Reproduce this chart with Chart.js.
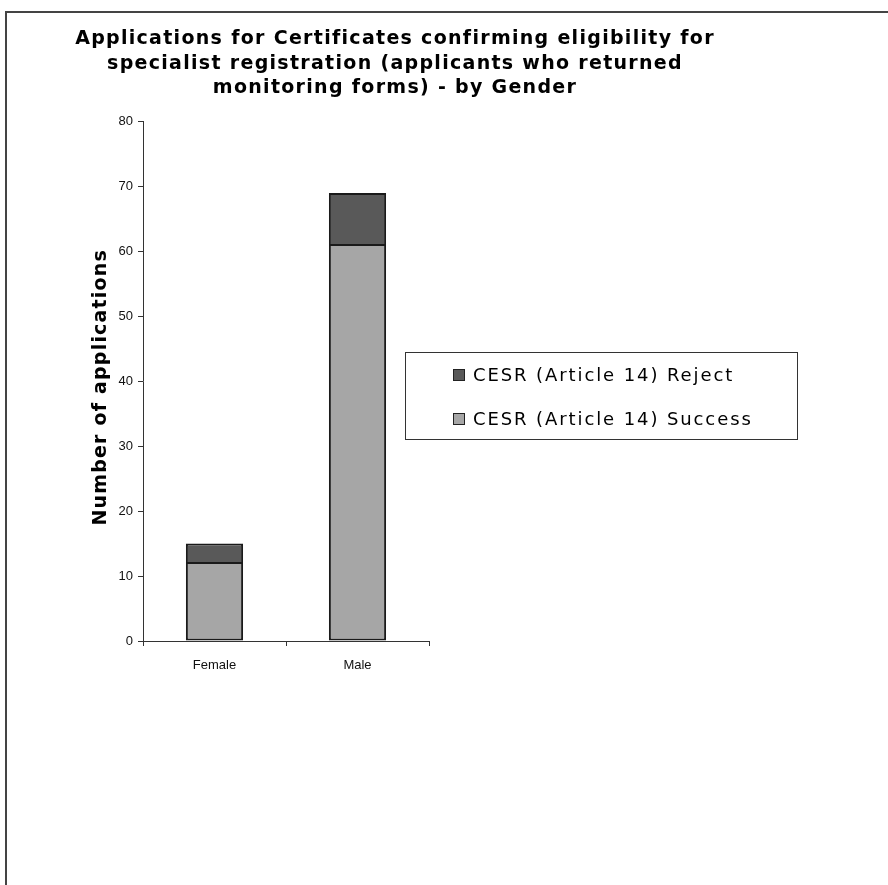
<!DOCTYPE html>
<html>
<head>
<meta charset="utf-8">
<script src="https://cdn.jsdelivr.net/npm/chart.js@4/dist/chart.umd.min.js"></script>
<style>
  html, body { margin: 0; padding: 0; background: #fff; }
  #grafica { display: block; }
</style>
</head>
<body>
<canvas id="grafica" width="888" height="885"></canvas>
<script>
const generos = ["Female", "Male"];
const exitosas = [12, 61];
const rechazadas = [3, 8];
const ticksY = [0, 10, 20, 30, 40, 50, 60, 70, 80];

const titulo = [
  "Applications for Certificates confirming eligibility for",
  "specialist registration (applicants who returned",
  "monitoring forms) - by Gender",
];

// marco de la hoja (solo izquierda y arriba)
const marco = {
  id: "marco",
  beforeDraw(chart) {
    const ctx = chart.ctx;
    ctx.save();
    ctx.fillStyle = "#fff";
    ctx.fillRect(0, 0, chart.width, chart.height);
    ctx.fillStyle = "#444";
    ctx.fillRect(5, 11, 2, chart.height - 11);
    ctx.fillRect(5, 11, chart.width - 5, 2);
    ctx.restore();
  },
};

// dibuja con espaciado entre letras (Chart.js no tiene opcion para eso)
const conEspaciado = (obj, metodo, px, dy = 0) => {
  if (obj["_" + metodo]) return;
  const original = obj[metodo].bind(obj);
  obj["_" + metodo] = original;
  obj[metodo] = (...args) => {
    const ctx = obj.ctx;
    ctx.save();
    ctx.translate(0, dy);
    ctx.letterSpacing = px + "px";
    original(...args);
    ctx.restore();
  };
};

// el titulo se centra sobre la hoja, no solo sobre el area del grafico
const ajustes = {
  id: "ajustes",
  afterLayout(chart) {
    const t = chart.titleBlock;
    t.left = 0;
    t.right = 790;
    t.width = 790;
    conEspaciado(t, "draw", 1.3);
    conEspaciado(chart.scales.y, "drawTitle", 1.2, 6);
  },
};

// leyenda en caja, a la derecha
const leyenda = {
  id: "leyenda",
  afterDraw(chart) {
    const ctx = chart.ctx;
    const caja = { x: 405.5, y: 352.5, w: 392, h: 87 };
    ctx.save();
    ctx.strokeStyle = "#333";
    ctx.lineWidth = 1;
    ctx.strokeRect(caja.x, caja.y, caja.w, caja.h);
    ctx.font = "18px 'DejaVu Sans'";
    ctx.letterSpacing = "1.9px";
    ctx.textBaseline = "middle";
    const sets = chart.data.datasets.slice().reverse();
    sets.forEach((ds, i) => {
      const y = 375 + i * 44;
      ctx.fillStyle = ds.backgroundColor;
      ctx.fillRect(453, y - 6, 12, 12);
      ctx.strokeStyle = "#222";
      ctx.strokeRect(453.5, y - 5.5, 11, 11);
      ctx.fillStyle = "#000";
      ctx.fillText(ds.label, 473, y + 1);
    });
    ctx.restore();
  },
};

const config = {
  type: "bar",
  data: {
    labels: generos,
    datasets: [
      {
        label: "CESR (Article 14) Success",
        data: exitosas,
        backgroundColor: "#a6a6a6",
        borderColor: "#1a1a1a",
        borderWidth: { top: 1, bottom: 2, left: 2, right: 2 },
        borderSkipped: false,
      },
      {
        label: "CESR (Article 14) Reject",
        data: rechazadas,
        backgroundColor: "#595959",
        borderColor: "#1a1a1a",
        borderWidth: { top: 2, bottom: 1, left: 2, right: 2 },
        borderSkipped: false,
      },
    ],
  },
  options: {
    responsive: false,
    animation: false,
    barPercentage: 0.4,
    categoryPercentage: 1,
    layout: { padding: { left: 0, right: 459, top: 0, bottom: 204 } },
    plugins: {
      legend: { display: false },
      tooltip: { enabled: false },
      title: {
        display: true,
        text: titulo,
        color: "#000",
        font: { family: "'DejaVu Sans'", size: 19, weight: "bold", lineHeight: 1.29 },
        padding: { top: 27, bottom: 21 },
      },
    },
    scales: {
      x: {
        stacked: true,
        afterFit: (s) => { s.height = 40; },
        grid: { offset: true, drawOnChartArea: false, drawTicks: true, tickLength: 5, color: "#333" },
        border: { display: true, color: "#333", width: 1 },
        ticks: { color: "#111", padding: 12, font: { family: "'Liberation Sans'", size: 13 } },
      },
      y: {
        stacked: true,
        min: 0,
        max: 80,
        afterFit: (s) => { s.width = 143; },
        afterBuildTicks: (s) => { s.ticks = ticksY.map((v) => ({ value: v })); },
        grid: { drawOnChartArea: false, drawTicks: true, tickLength: 5, color: "#333" },
        border: { display: true, color: "#333", width: 1 },
        ticks: { color: "#111", padding: 5, font: { family: "'Liberation Sans'", size: 13 } },
        title: {
          display: true,
          text: "Number of applications",
          color: "#000",
          font: { family: "'DejaVu Sans'", size: 19, weight: "bold" },
          padding: { top: 90, bottom: 0 },
        },
      },
    },
  },
  plugins: [marco, ajustes, leyenda],
};

const myGraph = new Chart(document.getElementById("grafica"), config);
</script>
</body>
</html>
